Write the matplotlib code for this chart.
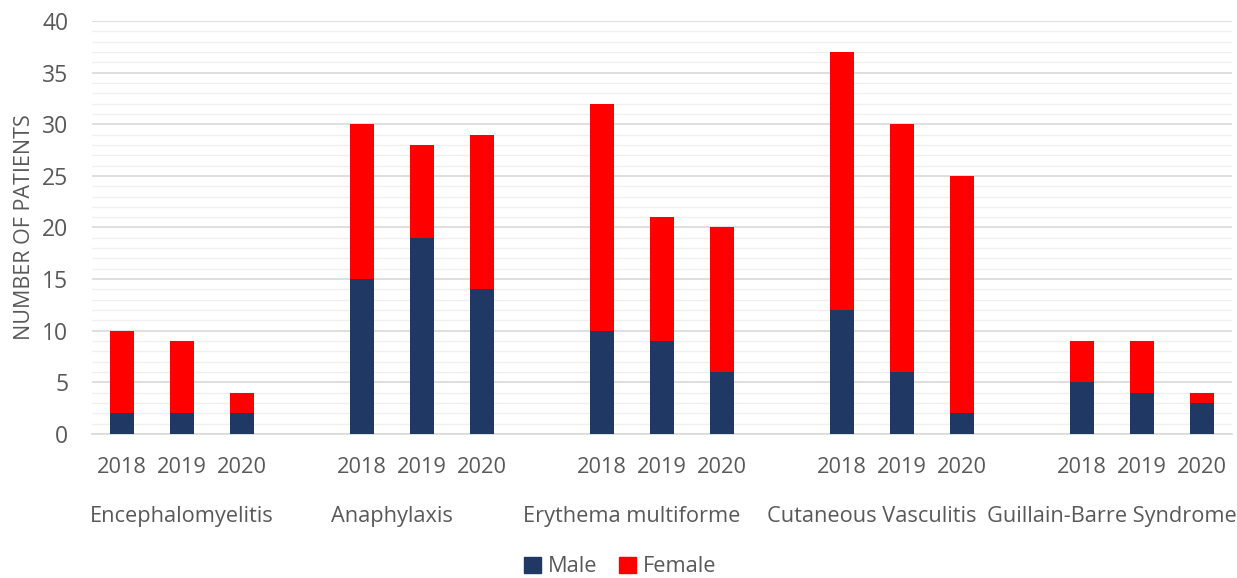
import matplotlib.pyplot as plt
from matplotlib.patches import Patch
import numpy as np

plt.rcParams['font.family'] = ['Open Sans', 'DejaVu Sans']

categories = ['Encephalomyelitis', 'Anaphylaxis', 'Erythema multiforme',
              'Cutaneous Vasculitis', 'Guillain-Barre Syndrome']
years = ['2018', '2019', '2020']
male = [2, 2, 2, 15, 19, 14, 10, 9, 6, 12, 6, 2, 5, 4, 3]
female = [8, 7, 2, 15, 9, 15, 22, 12, 14, 25, 24, 23, 4, 5, 1]

navy = '#203864'
red = '#ff0000'
txt = '#595959'

# слоты: 3 года + пустой промежуток между группами
pos = []
for g in range(len(categories)):
    for j in range(len(years)):
        pos.append(g * 4 + j)
pos = np.array(pos)

fig = plt.figure(figsize=(12.37, 5.78), dpi=100)
ax = fig.add_axes([92 / 1237, 1 - 434 / 578, 1140 / 1237, 413 / 578])

ax.bar(pos, male, width=0.4, color=navy, zorder=3)
ax.bar(pos, female, width=0.4, bottom=male, color=red, zorder=3)

ax.set_xlim(-0.5, pos[-1] + 0.5)
ax.set_ylim(0, 40)
ax.set_yticks(np.arange(0, 41, 5))
ax.set_yticks(np.arange(0, 41, 1), minor=True)
ax.grid(axis='y', which='major', color='#d9d9d9', linewidth=1.2, zorder=0)
ax.grid(axis='y', which='minor', color='#f0f0f0', linewidth=1.0, zorder=0)
ax.tick_params(axis='y', which='both', length=0, labelsize=16.5, labelcolor=txt, pad=17)
ax.tick_params(axis='x', length=0)
ax.set_xticks([])
for s in ['top', 'right', 'left']:
    ax.spines[s].set_visible(False)
ax.spines['bottom'].set_color('#d9d9d9')
ax.spines['bottom'].set_linewidth(1.2)

ax.set_ylabel('NUMBER OF PATIENTS', fontsize=15.5, color=txt)
ax.yaxis.set_label_coords(-57 / 1140, 0.5)

trans = ax.get_xaxis_transform()
for i, p in enumerate(pos):
    ax.text(p, -0.08, years[i % 3], transform=trans, ha='center', va='center',
            fontsize=15.7, color=txt)

# подписи групп: центр по слотам группы (включая пустой перед ней)
for g, name in enumerate(categories):
    if g == 0:
        c = pos[1]
    else:
        c = g * 4 + 0.5
    ax.text(c, -0.2, name, transform=trans, ha='center', va='center',
            fontsize=15.7, color=txt)

handles = [Patch(color=navy, label='Male'), Patch(color=red, label='Female')]
fig.legend(handles=handles, loc='center', bbox_to_anchor=(620 / 1237, 1 - 567 / 578),
           ncol=2, frameon=False, fontsize=15.7, labelcolor=txt,
           handlelength=0.8, handleheight=0.8, handletextpad=0.3, columnspacing=1.0)

fig.savefig('out.png', dpi=100)
